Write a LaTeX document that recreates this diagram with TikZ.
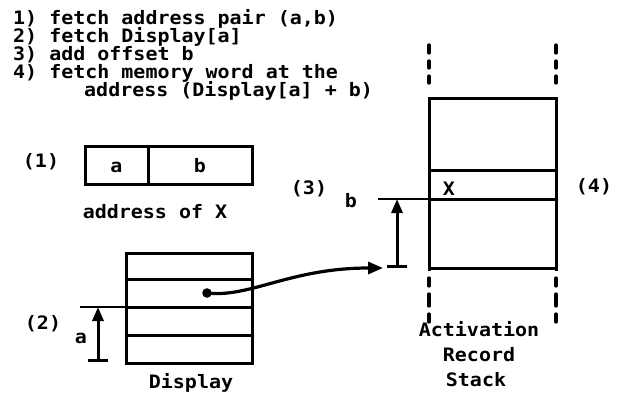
\documentclass[tikz,border=0pt]{standalone}
\usepackage{fontspec}
\setmainfont{DejaVu Sans Mono}[FakeStretch=1.08]
\usetikzlibrary{arrows.meta}
\begin{document}
\begin{tikzpicture}[x=1pt,y=-1pt,
  txt/.style={font=\fontsize{18.5}{18.5}\selectfont\bfseries, inner sep=0pt, anchor=base},
  boxline/.style={line width=3pt},
  thinline/.style={line width=1.6pt},
  cell/.style={draw, line width=3pt, inner sep=0pt, text height=14pt, text depth=0pt,
    font=\fontsize{18.5}{18.5}\selectfont\bfseries, minimum height=38pt},
  meas/.style={line width=3pt, {Bar[width=20pt]}-{Triangle[length=14pt,width=11pt]}},
  curvearrow/.style={line width=3.2pt, -{Triangle[length=15pt,width=12pt]}},
  dashseg/.style={line width=3.2pt, line cap=round}
]
\useasboundingbox (0,0) rectangle (618,394);

% instruction list
\node[txt, anchor=base west] (l1) at (13,24) {1) fetch address pair (a,b)};
\node[txt, anchor=base west] (l2) at (13,42) {2) fetch Display[a]};
\node[txt, anchor=base west] (l3) at (13,60) {3) add offset b};
\node[txt, anchor=base west] (l4) at (13,78) {4) fetch memory word at the};
\node[txt, anchor=base west] (l5) at (84,96) {address (Display[a] + b)};

% (1) address pair
\node[txt] (n1) at (41,167) {(1)};
\node[cell, minimum width=63pt] (fa) at (116.5,165) {a};
\node[cell, minimum width=104pt] (fb) at (200,165) {b};
\node[txt] (addrx) at (155,218) {address of X};

% Display
\coordinate (dtl) at (126,253);
\coordinate (dbr) at (252,363);
\draw[boxline] (dtl) rectangle (dbr);
\draw[boxline] (126,279) -- (252,279);
\draw[boxline] (126,307) -- (252,307);
\draw[boxline] (126,335) -- (252,335);
\coordinate (aext) at (80,307);
\coordinate (aend) at (126,307);
\draw[thinline] (aext) -- (aend);
\coordinate (abot) at (98,362);
\coordinate (atop) at (98,307);
\draw[meas] (abot) -- (atop);
\node[txt] (n2) at (43,329) {(2)};
\node[txt] (alab) at (81,343) {a};
\node[txt] (disp) at (191,388) {Display};

% pointer from display entry to stack
\coordinate (dot) at (207,293);
\coordinate (tgt) at (383,268);
\fill (dot) circle (4.8pt);
\draw[curvearrow] (dot) .. controls (250,298) and (290,268) .. (tgt);

% Activation record stack
\draw[boxline] (429,97) -- (429,271);
\draw[boxline] (556,97) -- (556,271);
\draw[boxline] (429,98) -- (556,98);
\draw[boxline] (429,170) -- (556,170);
\draw[boxline] (429,199) -- (556,199);
\draw[boxline] (429,268) -- (556,268);
\foreach \x in {429,556}{
  \draw[dashseg] (\x,45) -- (\x,53);
  \draw[dashseg] (\x,61) -- (\x,68);
  \draw[dashseg] (\x,76) -- (\x,83);
  \draw[dashseg] (\x,278) -- (\x,286);
  \draw[dashseg] (\x,294) -- (\x,306);
  \draw[dashseg] (\x,314) -- (\x,322);
}
\coordinate (bext) at (378,199);
\coordinate (bend) at (429,199);
\draw[thinline] (bext) -- (bend);
\coordinate (bbot) at (397,268);
\coordinate (btop) at (397,199);
\draw[meas] (bbot) -- (btop);
\node[txt] (n3) at (309,194) {(3)};
\node[txt] (blab) at (351,207) {b};
\node[txt] (xlab) at (449,195) {X};
\node[txt] (n4) at (594,192) {(4)};
\node[txt] (s1) at (479,336) {Activation};
\node[txt] (s2) at (479,361) {Record};
\node[txt] (s3) at (476,386) {Stack};
\end{tikzpicture}
\end{document}
